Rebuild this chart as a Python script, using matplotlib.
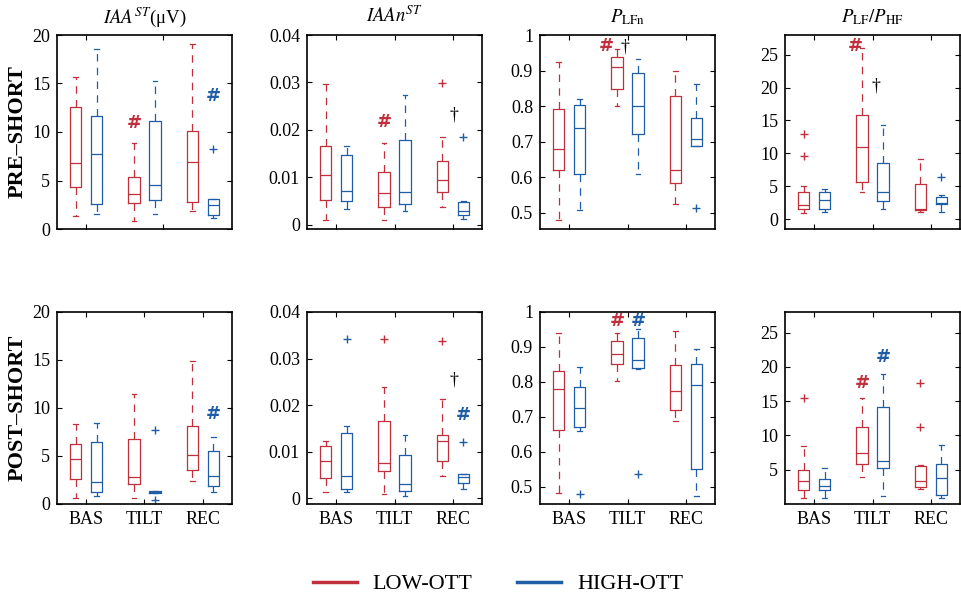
import matplotlib
matplotlib.use("Agg")
import matplotlib.pyplot as plt
from matplotlib.lines import Line2D

plt.rcParams['font.family'] = ['Liberation Serif', 'DejaVu Serif']
plt.rcParams['mathtext.fontset'] = 'stix'

# ------------------------------------------------------------
# data: one row per box, order BAS-low, BAS-high, TILT-low,
# TILT-high, REC-low, REC-high; columns whislo, q1, med, q3, whishi
# ------------------------------------------------------------
groups = ["BAS", "TILT", "REC"]
series = ["LOW-OTT", "HIGH-OTT"]

pre_iaa = [[1.3, 4.3, 6.8, 12.6, 15.7], [1.5, 2.6, 7.7, 11.7, 18.6],
           [0.8, 2.7, 3.6, 5.4, 8.9], [1.5, 3.0, 4.5, 11.1, 15.3],
           [1.9, 2.8, 6.9, 10.1, 19.1], [1.1, 1.4, 2.5, 3.1, 3.1]]
pre_iaa_out = [[], [], [], [], [], [8.2]]

pre_iaan = [[0.0011, 0.0052, 0.0104, 0.0165, 0.0297], [0.0033, 0.0049, 0.0072, 0.0147, 0.0165],
            [0.0009, 0.0037, 0.0066, 0.0112, 0.0173], [0.0029, 0.0043, 0.0069, 0.0178, 0.0273],
            [0.0037, 0.0069, 0.0094, 0.0134, 0.0184], [0.0013, 0.0021, 0.0028, 0.0047, 0.0049]]
pre_iaan_out = [[], [], [], [], [0.0299], [0.0186]]

pre_plfn = [[0.480, 0.621, 0.679, 0.793, 0.925], [0.507, 0.609, 0.738, 0.803, 0.820],
            [0.801, 0.847, 0.911, 0.938, 0.960], [0.609, 0.723, 0.800, 0.893, 0.932],
            [0.526, 0.584, 0.622, 0.829, 0.900], [0.687, 0.687, 0.707, 0.768, 0.862]]
pre_plfn_out = [[], [], [], [], [], [0.514]]

pre_ratio = [[0.9, 1.6, 2.1, 4.1, 5.1], [1.1, 1.6, 2.9, 4.1, 4.6],
             [4.1, 5.6, 11.0, 15.9, 26.0], [1.6, 2.75, 4.1, 8.55, 14.3],
             [1.1, 1.4, 1.6, 5.4, 9.2], [1.1, 2.3, 2.4, 3.4, 3.6]]
pre_ratio_out = [[12.9, 9.6], [], [], [], [], [6.4]]

post_iaa = [[0.6, 2.6, 4.7, 6.3, 8.3], [0.8, 1.2, 2.3, 6.5, 8.4],
            [0.6, 2.05, 2.85, 6.8, 11.5], [1.1, 1.1, 1.25, 1.4, 1.4],
            [2.4, 3.55, 5.15, 8.1, 14.85], [1.3, 1.9, 2.9, 5.5, 7.0]]
post_iaa_out = [[], [], [], [7.75, 0.4], [], []]

post_iaan = [[0.0014, 0.0043, 0.0080, 0.0112, 0.0124], [0.0014, 0.0020, 0.0048, 0.0140, 0.0156],
             [0.0009, 0.0058, 0.0075, 0.0167, 0.0240], [0.0006, 0.0015, 0.0031, 0.0094, 0.0136],
             [0.0048, 0.0081, 0.0123, 0.0136, 0.0213], [0.0020, 0.0034, 0.0045, 0.0052, 0.0052]]
post_iaan_out = [[], [0.0341], [0.0343], [], [0.0338], [0.0120]]

post_plfn = [[0.481, 0.662, 0.780, 0.832, 0.941], [0.658, 0.671, 0.724, 0.785, 0.842],
             [0.802, 0.852, 0.880, 0.916, 0.941], [0.837, 0.840, 0.863, 0.926, 0.950],
             [0.689, 0.720, 0.773, 0.847, 0.945], [0.472, 0.550, 0.791, 0.851, 0.895]]
post_plfn_out = [[], [0.478], [], [0.535], [], []]

post_ratio = [[0.9, 2.0, 3.4, 5.0, 8.45], [0.9, 2.0, 2.6, 3.7, 5.3],
              [4.0, 5.8, 7.5, 11.2, 15.4], [1.1, 5.25, 6.2, 14.1, 18.9],
              [2.2, 2.5, 3.4, 5.5, 5.7], [0.9, 1.25, 3.8, 5.9, 8.55]]
post_ratio_out = [[15.5], [], [], [], [17.65, 11.3], []]

# significance marks: (box index, x shift, y, symbol)
pre_iaa_marks = [(2, 0.0, 10.9, "#"), (5, 0.0, 13.7, "#")]
pre_iaan_marks = [(2, 0.0, 0.0216, "#"), (4, 0.2, 0.0232, "†")]
pre_plfn_marks = [(2, -0.18, 0.970, "#"), (2, 0.13, 0.966, "†")]
pre_ratio_marks = [(2, -0.12, 26.4, "#"), (2, 0.24, 20.2, "†")]
post_iaa_marks = [(5, 0.0, 9.4, "#")]
post_iaan_marks = [(5, 0.0, 0.018, "#"), (4, 0.2, 0.0254, "†")]
post_plfn_marks = [(2, 0.0, 0.973, "#"), (3, 0.0, 0.973, "#")]
post_ratio_marks = [(2, 0.0, 17.65, "#"), (3, 0.0, 21.4, "#")]

titles = [r"$IAA^{ST}$(μV)", r"$IAAn^{ST}$", r"$P_{\mathrm{LFn}}$",
          r"$P_{\mathrm{LF}}/P_{\mathrm{HF}}$"]
row_labels = ["PRE–SHORT", "POST–SHORT"]

yt_iaa = [0, 5, 10, 15, 20]
yt_iaan = [0, 0.01, 0.02, 0.03, 0.04]
yl_iaan = ["0", "0.01", "0.02", "0.03", "0.04"]
yt_plfn = [0.5, 0.6, 0.7, 0.8, 0.9, 1.0]
yl_plfn = ["0.5", "0.6", "0.7", "0.8", "0.9", "1"]
yt_ratio_pre = [0, 5, 10, 15, 20, 25]
yt_ratio_post = [5, 10, 15, 20, 25]

RED = "#c0303c"
BLUE = "#1f5ea6"
colors = [RED, BLUE]
positions = [0.82, 1.18, 1.82, 2.18, 2.82, 3.18]

panels = [
    # row, col, boxes, outliers, marks, ylim, yticks, yticklabels
    (0, 0, pre_iaa, pre_iaa_out, pre_iaa_marks, (0, 20), yt_iaa, None),
    (0, 1, pre_iaan, pre_iaan_out, pre_iaan_marks, (-0.0009, 0.04), yt_iaan, yl_iaan),
    (0, 2, pre_plfn, pre_plfn_out, pre_plfn_marks, (0.455, 1.0), yt_plfn, yl_plfn),
    (0, 3, pre_ratio, pre_ratio_out, pre_ratio_marks, (-1.5, 28), yt_ratio_pre, None),
    (1, 0, post_iaa, post_iaa_out, post_iaa_marks, (0, 20), yt_iaa, None),
    (1, 1, post_iaan, post_iaan_out, post_iaan_marks, (-0.0012, 0.04), yt_iaan, yl_iaan),
    (1, 2, post_plfn, post_plfn_out, post_plfn_marks, (0.45, 1.0), yt_plfn, yl_plfn),
    (1, 3, post_ratio, post_ratio_out, post_ratio_marks, (0, 28), yt_ratio_post, None),
]

W, H = 961, 599
fig = plt.figure(figsize=(W / 100, H / 100), dpi=100)

col_left = [57, 307, 540, 785]
row_top = [35, 312]
row_h = [194, 192]
ax_w = 175

for row, col, boxes, outs, marks, ylim, yt, yl in panels:
    ax = fig.add_axes([col_left[col] / W, (H - row_top[row] - row_h[row]) / H,
                       ax_w / W, row_h[row] / H])
    for i, b in enumerate(boxes):
        c = colors[i % 2]
        st = dict(whislo=b[0], q1=b[1], med=b[2], q3=b[3], whishi=b[4], fliers=outs[i])
        ax.bxp([st], positions=[positions[i]], widths=0.19, capwidths=0.08,
               manage_ticks=False,
               boxprops=dict(color=c, lw=0.9),
               whiskerprops=dict(color=c, lw=0.9, linestyle=(0, (6, 5))),
               capprops=dict(color=c, lw=0.9),
               medianprops=dict(color=c, lw=0.9),
               flierprops=dict(marker="+", markeredgecolor=c, markersize=6,
                               markeredgewidth=1.0, linestyle="none"))
    for idx, dx, y, sym in marks:
        if sym == "#":
            ax.text(positions[idx] + dx, y, sym, color=colors[idx % 2], ha="center",
                    va="center", fontsize=13, fontweight="bold", family="DejaVu Sans")
        else:
            ax.text(positions[idx] + dx, y, sym, color="black", ha="center",
                    va="center", fontsize=13)

    ax.set_xlim(0.5, 3.5)
    ax.set_ylim(*ylim)
    ax.set_yticks(yt)
    if yl is not None:
        ax.set_yticklabels(yl)
    if row == 0 and col == 0:
        ax.set_xticks([1, 2.32])
    else:
        ax.set_xticks([1, 2, 3])
    if row == 1:
        ax.set_xticklabels(groups)
    else:
        ax.set_xticklabels([])
        ax.set_title(titles[col], fontsize=13.5, pad=9)
    ax.tick_params(direction="in", top=True, right=True, length=3.5, width=0.8,
                   labelsize=13, pad=5)
    for sp in ax.spines.values():
        sp.set_linewidth(1.2)

for r, lab in enumerate(row_labels):
    yc = (H - row_top[r] - row_h[r] / 2) / H
    fig.text(18 / W, yc, lab, rotation=90, ha="center", va="center",
             fontsize=16, fontweight="bold")

handles = [Line2D([], [], color=c, lw=2.5) for c in colors]
fig.legend(handles, series, loc="center", bbox_to_anchor=(0.518, 0.025), ncol=2,
           frameon=False, fontsize=16, handlelength=2.0, columnspacing=2.0,
           handletextpad=0.7)

fig.savefig("out.png", dpi=100)
